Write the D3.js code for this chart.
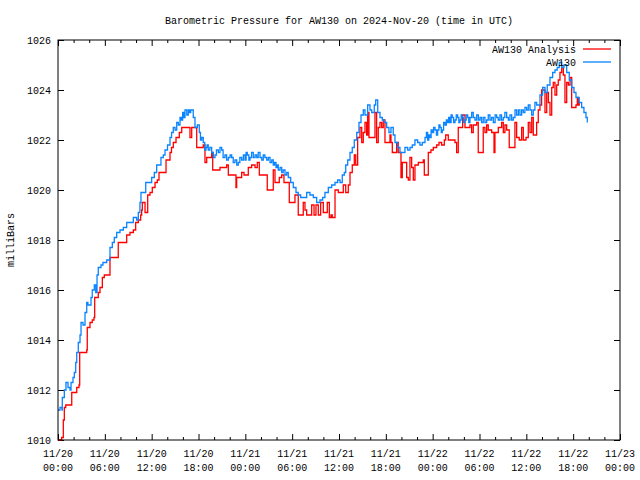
<!DOCTYPE html>
<html>
<head>
<meta charset="utf-8">
<script src="https://cdn.jsdelivr.net/npm/d3@7"></script>
<style>
  body { margin: 0; background: #fff; }
  svg text { font-family: "Liberation Mono", "DejaVu Sans Mono", monospace; font-size: 11px; fill: #000; }
</style>
</head>
<body>
<div id="chart"></div>
<script>

var title = "Barometric Pressure for AW130 on 2024-Nov-20 (time in UTC)",
    yLabel = "milliBars",
    seriesNames = ["AW130 Analysis", "AW130"],
    seriesColors = ["#ff0000", "#0a84ff"];

var startTime = Date.UTC(2024, 10, 20, 0, 0),
    endTime = Date.UTC(2024, 10, 23, 0, 0);

var yTicks = [1010, 1012, 1014, 1016, 1018, 1020, 1022, 1024, 1026];

// hours after 11/20 00:00 UTC, mb
var analysisHours = [0, 0.47, 0.68, 0.81, 0.99, 1.76, 2.40, 2.69, 2.78, 3.68, 3.75, 4.10, 4.39, 4.61, 4.70, 5.16, 5.38, 5.68, 5.93, 6.66,
  7.72, 8.80, 9.22, 9.65, 9.95, 10.29, 10.59, 10.72, 10.80, 11.15, 11.49, 11.79, 12.08, 12.43, 12.72, 12.94, 13.84, 14.35, 14.54, 14.77,
  15.12, 15.54, 15.85, 16.91, 17.13, 17.77, 18.61, 18.83, 19.05, 19.69, 19.82, 20.75, 21.61, 21.82, 22.80, 22.89, 23.53, 23.83, 24.38, 24.81,
  25.24, 25.53, 25.79, 26.81, 27.58, 27.80, 28.35, 28.66, 28.95, 29.63, 30.36, 30.78, 31.42, 31.64, 31.86, 32.50, 32.80, 33.05, 33.35, 33.65,
  33.99, 34.50, 34.76, 34.97, 35.14, 35.49, 35.91, 36.55, 36.86, 37.19, 37.41, 37.70, 37.96, 38.14, 38.39, 38.69, 38.91, 39.11, 39.33, 39.54,
  39.67, 39.84, 40.61, 40.82, 41.03, 41.25, 41.47, 41.67, 41.89, 42.53, 42.66, 42.83, 43.39, 43.59, 43.94, 44.11, 44.67, 44.88, 45.09, 45.31,
  45.52, 45.73, 46.16, 46.80, 46.93, 47.44, 47.78, 48.08, 48.51, 48.81, 49.15, 49.49, 49.67, 50.00, 50.86, 51.07, 51.28, 51.84, 52.14, 52.78,
  52.99, 53.20, 53.64, 53.84, 54.48, 54.70, 54.92, 55.12, 55.56, 55.86, 55.98, 56.41, 56.84, 57.05, 57.26, 57.48, 57.81, 58.54, 58.76, 59.09,
  59.40, 59.61, 59.96, 60.25, 60.47, 60.69, 60.89, 61.32, 61.53, 61.75, 61.96, 62.39, 62.61, 62.82, 63.03, 63.25, 63.45, 63.67, 63.89, 64.09,
  64.31, 64.53, 64.74, 64.95, 65.17, 65.38, 65.60, 65.81, 66.36, 66.53, 66.66, 66.78];
var analysisMb = [1010.0, 1010.1, 1010.8, 1011.3, 1011.4, 1011.9, 1012.1, 1012.2, 1013.5, 1013.6, 1014.5, 1014.7, 1014.8, 1014.9, 1015.7, 1015.9, 1016.1, 1016.5, 1016.6, 1017.3,
  1017.9, 1018.2, 1018.3, 1018.4, 1018.7, 1018.8, 1019.0, 1019.2, 1019.5, 1019.1, 1019.8, 1019.9, 1020.1, 1020.3, 1020.4, 1020.7, 1021.2, 1021.5, 1021.7, 1021.9,
  1022.1, 1022.3, 1022.5, 1022.1, 1022.5, 1021.7, 1021.8, 1021.1, 1021.3, 1021.5, 1020.8, 1020.9, 1021.0, 1020.6, 1020.1, 1020.5, 1020.7, 1020.6, 1020.9, 1021.0,
  1020.9, 1021.1, 1020.6, 1020.0, 1020.8, 1020.3, 1020.5, 1020.6, 1020.3, 1019.5, 1019.8, 1019.0, 1019.5, 1019.2, 1019.0, 1019.4, 1019.0, 1019.4, 1019.0, 1019.5,
  1019.1, 1019.5, 1018.9, 1019.0, 1018.9, 1020.0, 1019.9, 1020.2, 1019.9, 1020.2, 1020.7, 1021.0, 1021.4, 1021.0, 1022.1, 1022.5, 1021.9, 1022.3, 1022.7, 1022.2,
  1023.1, 1022.1, 1023.1, 1021.9, 1022.5, 1022.7, 1022.5, 1022.8, 1021.9, 1022.2, 1021.9, 1021.5, 1021.9, 1021.5, 1020.5, 1021.1, 1020.5, 1020.4, 1021.3, 1020.9,
  1020.4, 1021.0, 1021.1, 1021.2, 1020.6, 1021.5, 1021.6, 1021.7, 1021.8, 1021.9, 1021.8, 1022.0, 1022.2, 1022.0, 1021.9, 1021.5, 1022.5, 1023.0, 1022.5, 1022.6,
  1022.3, 1022.6, 1022.7, 1021.5, 1022.5, 1022.3, 1022.6, 1022.4, 1022.3, 1021.5, 1022.3, 1022.5, 1022.7, 1022.3, 1022.6, 1022.4, 1021.7, 1022.7, 1022.1, 1022.0,
  1022.5, 1022.0, 1022.1, 1022.7, 1022.3, 1022.9, 1022.2, 1022.7, 1023.2, 1023.4, 1024.0, 1023.1, 1023.9, 1023.5, 1023.0, 1024.1, 1024.3, 1023.8, 1024.2, 1024.4,
  1024.7, 1024.9, 1024.6, 1023.5, 1024.3, 1024.2, 1024.5, 1023.3, 1023.4, 1023.7, 1023.4, 1023.5];

var stationHours = [0, 0.26, 0.51, 0.55, 0.81, 1.02, 1.28, 1.54, 1.67, 1.92, 2.09, 2.27, 2.40, 2.60, 2.82, 2.95, 3.20, 3.46, 3.68, 3.84,
  4.23, 4.39, 4.65, 4.83, 5.00, 5.16, 5.51, 5.76, 6.24, 6.66, 6.96, 7.21, 7.52, 7.94, 8.37, 8.80, 9.22, 9.65, 10.08, 10.29,
  10.50, 10.63, 10.93, 11.24, 11.57, 12.00, 12.34, 12.64, 12.94, 13.19, 13.49, 13.71, 14.03, 14.35, 14.55, 14.77, 15.00, 15.21, 15.42, 15.63,
  15.80, 15.97, 16.10, 16.27, 16.50, 16.69, 16.85, 17.00, 17.33, 17.55, 17.85,
  18.10, 18.25, 18.41, 18.61, 18.80, 18.96, 19.10, 19.25, 19.45, 19.69, 19.90, 20.11, 20.30, 20.54, 20.75, 20.97, 21.15, 21.39, 21.60, 21.82,
  22.05, 22.25, 22.45, 22.67, 22.90, 23.10, 23.30, 23.53, 23.75, 23.96, 24.10, 24.25, 24.45, 24.60, 24.80, 25.02, 25.25, 25.46, 25.65, 25.88,
  26.10, 26.30, 26.50, 26.74, 26.95, 27.16, 27.38, 27.58, 27.75, 27.93, 28.10, 28.22, 28.45, 28.66, 28.85, 29.08, 29.30, 29.50,
  29.81, 30.14, 30.49, 30.78, 31.09, 31.42,
  31.86, 32.28, 32.71, 33.14, 33.56, 33.91, 34.20, 34.63, 35.06, 35.49, 35.83, 36.13, 36.42, 36.68, 36.86, 37.11, 37.41, 37.70, 37.96, 38.27,
  38.56, 38.82, 39.11, 39.33, 39.67, 39.97, 40.19, 40.52, 40.70, 40.96, 41.25, 41.55, 41.80, 42.11, 42.40, 42.66, 42.95, 43.17, 43.52, 43.81,
  44.11, 44.45, 44.80, 45.09, 45.39, 45.73, 46.08, 46.37, 46.67,
  47.02, 47.20, 47.36, 47.50, 47.66, 47.80, 47.95, 48.12, 48.30, 48.48, 48.64, 48.80, 48.94, 49.10, 49.23, 49.40, 49.58, 49.75, 49.92, 50.05,
  50.22, 50.36, 50.51, 50.68, 50.86, 51.02, 51.20, 51.35, 51.50, 51.65, 51.79, 51.95, 52.14, 52.30, 52.49, 52.62, 52.78, 53.00, 53.20, 53.42,
  53.64, 53.85, 54.06, 54.26, 54.48, 54.70, 54.92, 55.12, 55.34, 55.55, 55.77, 56.00, 56.20, 56.40, 56.62, 56.82, 57.05, 57.25, 57.48, 57.70,
  57.90, 58.12, 58.33, 58.55, 58.76, 58.98, 59.18, 59.40, 59.61, 59.82, 60.04, 60.25, 60.47, 60.68, 60.89, 61.10, 61.32,
  61.75, 62.09, 62.39, 62.68, 63.03, 63.37, 63.67, 63.96, 64.22, 64.53, 64.82, 65.17,
  65.50, 65.81, 66.10, 66.36, 66.53, 66.78, 67.09, 67.38, 67.64, 67.81];
var stationMb = [1011.2, 1011.3, 1011.2, 1011.7, 1012.0, 1012.3, 1012.1, 1012.0, 1012.3, 1012.5, 1012.7, 1013.1, 1013.5, 1013.9, 1014.2, 1014.7, 1014.6, 1015.1, 1015.5, 1015.4,
  1015.7, 1016.0, 1016.2, 1015.9, 1016.6, 1016.9, 1017.0, 1017.1, 1017.2, 1017.7, 1017.9, 1018.1, 1018.3, 1018.4, 1018.5, 1018.7, 1018.7, 1018.9, 1018.8, 1019.1,
  1019.5, 1019.9, 1019.9, 1020.3, 1020.3, 1020.5, 1020.7, 1021.0, 1021.0, 1021.3, 1021.4, 1021.6, 1021.8, 1022.1, 1022.3, 1022.5, 1022.4, 1022.7, 1022.6, 1022.9,
  1022.8, 1023.1, 1022.9, 1023.2, 1023.0, 1023.2, 1023.1, 1023.2, 1022.9, 1022.5, 1022.6,
  1022.3, 1022.0, 1022.1, 1021.9, 1021.6, 1021.7, 1021.8, 1021.6, 1021.7, 1021.5, 1021.3, 1021.4, 1021.6, 1021.5, 1021.7, 1021.6, 1021.3, 1021.4, 1021.2, 1021.3,
  1021.4, 1021.3, 1021.1, 1021.2, 1021.0, 1021.1, 1021.3, 1021.2, 1021.4, 1021.2, 1021.5, 1021.4, 1021.2, 1021.3, 1021.5, 1021.3, 1021.4, 1021.3, 1021.5, 1021.3,
  1021.2, 1021.4, 1021.3, 1021.2, 1021.3, 1021.1, 1021.2, 1021.0, 1021.1, 1020.9, 1021.0, 1020.8, 1020.9, 1020.7, 1020.8, 1020.6, 1020.7, 1020.5,
  1020.3, 1020.1, 1019.9, 1019.8, 1019.7, 1019.7,
  1019.9, 1019.8, 1019.7, 1019.5, 1019.6, 1019.7, 1019.9, 1020.1, 1020.2, 1020.3, 1020.4, 1020.3, 1020.6, 1020.7, 1021.0, 1021.2, 1021.5, 1021.7, 1022.0, 1022.3,
  1022.7, 1023.0, 1023.2, 1023.0, 1023.4, 1023.2, 1023.1, 1023.4, 1023.6, 1023.1, 1022.9, 1022.8, 1022.7, 1022.5, 1022.3, 1022.5, 1022.2, 1021.9, 1021.7, 1021.5,
  1021.5, 1021.7, 1021.6, 1021.7, 1021.8, 1022.0, 1021.9, 1021.8, 1021.9,
  1022.1, 1022.3, 1022.0, 1022.2, 1022.1, 1022.4, 1022.3, 1022.5, 1022.4, 1022.2, 1022.4, 1022.6, 1022.5, 1022.3, 1022.4, 1022.7, 1022.6, 1022.8, 1022.7, 1022.9,
  1022.7, 1023.0, 1022.9, 1022.7, 1022.8, 1023.0, 1022.9, 1022.7, 1022.8, 1023.0, 1022.9, 1022.7, 1022.8, 1023.0, 1022.9, 1022.7, 1022.9, 1023.1, 1022.9, 1022.8,
  1023.0, 1022.8, 1022.9, 1022.7, 1022.9, 1022.7, 1022.8, 1023.0, 1022.8, 1022.9, 1022.7, 1023.0, 1022.9, 1022.8, 1023.0, 1022.8, 1022.9, 1023.1, 1022.9, 1022.8,
  1023.0, 1022.8, 1022.9, 1023.2, 1023.0, 1023.2, 1023.0, 1023.2, 1023.1, 1023.3, 1023.2, 1023.4, 1023.2, 1023.0, 1023.2, 1023.5, 1023.4,
  1023.8, 1024.1, 1023.9, 1024.2, 1024.5, 1024.7, 1024.8, 1024.9, 1025.1, 1024.9, 1025.0, 1024.7,
  1024.4, 1024.1, 1023.9, 1023.7, 1023.7, 1023.5, 1023.3, 1023.1, 1022.9, 1022.7];

var width = 640, height = 480,
    margin = {top: 40, right: 20, bottom: 40, left: 58};

var svg = d3.select("#chart").append("svg")
  .attr("width", width)
  .attr("height", height);

var x = d3.scaleUtc()
  .domain([startTime, endTime])
  .range([margin.left, width - margin.right]);

var y = d3.scaleLinear()
  .domain([1010, 1026])
  .range([height - margin.bottom, margin.top]);

function squeeze(sel) {
  // gnuplot's bitmap font is 6px per character
  sel.each(function() {
    var t = d3.select(this);
    t.attr("textLength", t.text().length * 6).attr("lengthAdjust", "spacingAndGlyphs");
  });
}

var majorTicks = d3.utcHour.every(6).range(startTime, endTime + 1);
var minorTicks = d3.utcHour.every(2).range(startTime, endTime + 1)
  .filter(function(d) { return d.getUTCHours() % 6 != 0; });

// ticks point inward on all four sides
function ticksOnly(g) {
  g.select(".domain").remove();
  g.selectAll("text").remove();
  g.selectAll("line").attr("stroke", "#000");
}

svg.append("g")
  .attr("transform", "translate(0," + (height - margin.bottom) + ")")
  .call(d3.axisBottom(x).tickValues(majorTicks).tickSize(-6))
  .call(ticksOnly);
svg.append("g")
  .attr("transform", "translate(0," + (height - margin.bottom) + ")")
  .call(d3.axisBottom(x).tickValues(minorTicks).tickSize(-3))
  .call(ticksOnly);
svg.append("g")
  .attr("transform", "translate(0," + margin.top + ")")
  .call(d3.axisTop(x).tickValues(majorTicks).tickSize(-6))
  .call(ticksOnly);
svg.append("g")
  .attr("transform", "translate(0," + margin.top + ")")
  .call(d3.axisTop(x).tickValues(minorTicks).tickSize(-3))
  .call(ticksOnly);
svg.append("g")
  .attr("transform", "translate(" + margin.left + ",0)")
  .call(d3.axisLeft(y).tickValues(yTicks).tickSize(-6))
  .call(ticksOnly);
svg.append("g")
  .attr("transform", "translate(" + (width - margin.right) + ",0)")
  .call(d3.axisRight(y).tickValues(yTicks).tickSize(-6))
  .call(ticksOnly);

// tick labels
var yl = svg.append("g").selectAll("text")
  .data(yTicks)
  .enter().append("text")
  .attr("x", margin.left - 7)
  .attr("y", function(d) { return y(d); })
  .attr("dy", "0.35em")
  .attr("text-anchor", "end")
  .text(function(d) { return d; });
squeeze(yl);

var fmtDay = d3.utcFormat("%m/%d"), fmtTime = d3.utcFormat("%H:%M");
var xl = svg.append("g").selectAll("g")
  .data(majorTicks)
  .enter().append("g")
  .attr("transform", function(d) { return "translate(" + x(d) + "," + (height - margin.bottom) + ")"; });
xl.append("text").attr("y", 17).attr("text-anchor", "middle").text(fmtDay).call(squeeze);
xl.append("text").attr("y", 31).attr("text-anchor", "middle").text(fmtTime).call(squeeze);

svg.append("text")
  .attr("x", (margin.left + width - margin.right) / 2)
  .attr("y", 24)
  .attr("text-anchor", "middle")
  .text(title)
  .call(squeeze);

svg.append("text")
  .attr("transform", "translate(14," + ((margin.top + height - margin.bottom) / 2) + ") rotate(-90)")
  .attr("text-anchor", "middle")
  .text(yLabel)
  .call(squeeze);

// data
var series = [
  {name: seriesNames[0], color: seriesColors[0],
   values: analysisHours.map(function(h, i) { return {t: startTime + h * 3600e3, v: analysisMb[i]}; })},
  {name: seriesNames[1], color: seriesColors[1],
   values: stationHours.map(function(h, i) { return {t: startTime + h * 3600e3, v: stationMb[i]}; })}
];

var line = d3.line()
  .curve(d3.curveStepAfter)
  .x(function(d) { return x(d.t); })
  .y(function(d) { return y(d.v); });

svg.append("g").selectAll("path")
  .data(series)
  .enter().append("path")
  .attr("fill", "none")
  .attr("stroke", function(d) { return d.color; })
  .attr("stroke-width", 1.3)
  .attr("d", function(d) { return line(d.values); });

// border
svg.append("rect")
  .attr("x", margin.left)
  .attr("y", margin.top)
  .attr("width", width - margin.right - margin.left)
  .attr("height", height - margin.bottom - margin.top)
  .attr("fill", "none")
  .attr("stroke", "#000")
  .attr("stroke-width", 1);

// key
var key = svg.append("g").selectAll("g")
  .data(series)
  .enter().append("g")
  .attr("transform", function(d, i) { return "translate(0," + (49 + i * 13) + ")"; });
key.append("text")
  .attr("x", 576)
  .attr("dy", "0.35em")
  .attr("text-anchor", "end")
  .text(function(d) { return d.name; })
  .call(squeeze);
key.append("line")
  .attr("x1", 583).attr("x2", 611)
  .attr("stroke", function(d) { return d.color; })
  .attr("stroke-width", 1.3);

</script>
</body>
</html>
